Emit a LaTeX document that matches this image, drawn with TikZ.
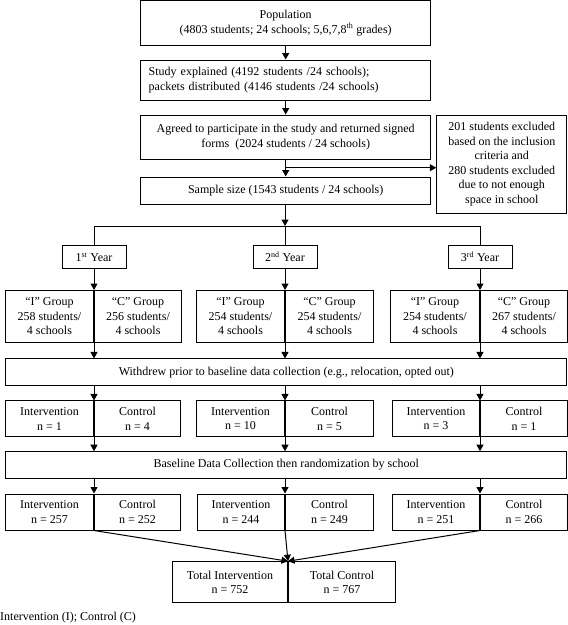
\documentclass[tikz,border=0pt]{standalone}
\usepackage{fontspec}
\setmainfont{Liberation Serif}
\usetikzlibrary{arrows.meta}

\tikzset{
	box/.style={draw, rectangle, line width=1pt, align=center, inner sep=2pt},
	link/.style={-{Triangle[length=6.5pt, width=7pt]}, line width=1pt},
	wire/.style={line width=1pt}
}

\begin{document}
\begin{tikzpicture}[x=1pt, y=-1pt, font=\fontsize{12}{14.5}\selectfont]
	\def \colA {94}
	\def \colB {285}
	\def \colC {480}

	\useasboundingbox (0,0) rectangle (568,625);

	% enrolment chain
	\node[box, minimum width=290pt, minimum height=45pt] (population) at (285.7,23)
		{Population\\(4803 students; 24 schools; 5,6,7,8\textsuperscript{th} grades)};
	\node[box, minimum height=40pt, text width=274pt, inner xsep=8pt, align=left] (study) at (285.7,80)
		{Study explained (4192 students /24 schools);\\packets distributed (4146 students /24 schools)};
	\node[box, minimum width=290pt, minimum height=44pt] (agree) at (285.7,137)
		{Agreed to participate in the study and returned signed\\forms\ \ (2024 students / 24 schools)};
	\node[box, minimum width=290pt, minimum height=27pt] (sample) at (285.7,190.5)
		{Sample size (1543 students / 24 schools)};
	\node[box, minimum width=130pt, minimum height=98pt] (exclude) at (501.8,164)
		{201 students excluded\\based on the inclusion\\criteria and\\280 students excluded\\due to not enough\\space in school};

	% years
	\node[box, minimum width=64pt, minimum height=22.6pt] (year1) at (\colA,257)
		{1\textsuperscript{st} Year};
	\node[box, minimum width=64pt, minimum height=22.6pt] (year2) at (\colB,257)
		{2\textsuperscript{nd} Year};
	\node[box, minimum width=64pt, minimum height=22.6pt] (year3) at (\colC,257)
		{3\textsuperscript{rd} Year};

	% groups
	\node[box, minimum width=88pt, minimum height=52pt, anchor=east] (group1i) at (\colA,316.5)
		{“I” Group\\258 students/\\4 schools};
	\node[box, minimum width=87pt, minimum height=52pt, anchor=west] (group1c) at (\colA,316.5)
		{“C” Group\\256 students/\\4 schools};
	\node[box, minimum width=88pt, minimum height=52pt, anchor=east] (group2i) at (\colB,316.5)
		{“I” Group\\254 students/\\4 schools};
	\node[box, minimum width=88pt, minimum height=52pt, anchor=west] (group2c) at (\colB,316.5)
		{“C” Group\\254 students/\\4 schools};
	\node[box, minimum width=89pt, minimum height=52pt, anchor=east] (group3i) at (\colC,316.5)
		{“I” Group\\254 students/\\4 schools};
	\node[box, minimum width=87pt, minimum height=52pt, anchor=west] (group3c) at (\colC,316.5)
		{“C” Group\\267 students/\\4 schools};

	\node[box, minimum width=561pt, minimum height=26.7pt] (withdrew) at (286.3,372.3)
		{Withdrew prior to baseline data collection (e.g., relocation, opted out)};

	% withdrawn counts
	\node[box, minimum width=88pt, minimum height=35.7pt, anchor=east] (drop1i) at (\colA,418.8)
		{Intervention\\n = 1};
	\node[box, minimum width=86pt, minimum height=35.7pt, anchor=west] (drop1c) at (\colA,418.8)
		{Control\\n = 4};
	\node[box, minimum width=88pt, minimum height=35.7pt, anchor=east] (drop2i) at (\colB,418.8)
		{Intervention\\n = 10};
	\node[box, minimum width=88pt, minimum height=35.7pt, anchor=west] (drop2c) at (\colB,418.8)
		{Control\\n = 5};
	\node[box, minimum width=87pt, minimum height=35.7pt, anchor=east] (drop3i) at (\colC,418.8)
		{Intervention\\n = 3};
	\node[box, minimum width=87pt, minimum height=35.7pt, anchor=west] (drop3c) at (\colC,418.8)
		{Control\\n = 1};

	\node[box, minimum width=561pt, minimum height=26.6pt] (baseline) at (286.3,465)
		{Baseline Data Collection then randomization by school};

	% randomized
	\node[box, minimum width=88pt, minimum height=36pt, anchor=east] (rand1i) at (\colA,512)
		{Intervention\\n = 257};
	\node[box, minimum width=86pt, minimum height=36pt, anchor=west] (rand1c) at (\colA,512)
		{Control\\n = 252};
	\node[box, minimum width=87pt, minimum height=36pt, anchor=east] (rand2i) at (\colB,512)
		{Intervention\\n = 244};
	\node[box, minimum width=88pt, minimum height=36pt, anchor=west] (rand2c) at (\colB,512)
		{Control\\n = 249};
	\node[box, minimum width=87pt, minimum height=36pt, anchor=east] (rand3i) at (\colC,512)
		{Intervention\\n = 251};
	\node[box, minimum width=87pt, minimum height=36pt, anchor=west] (rand3c) at (\colC,512)
		{Control\\n = 266};

	% totals
	\node[box, minimum width=115pt, minimum height=41pt, anchor=east] (totali) at (288,582.2)
		{Total Intervention\\n = 752};
	\node[box, minimum width=107pt, minimum height=41pt, anchor=west] (totalc) at (288,582.2)
		{Total Control\\n = 767};

	\node[anchor=west, inner sep=0pt] (note) at (0,618) {Intervention (I); Control (C)};

	% connectors
	\draw[link] (population) -- (population |- study.north);
	\draw[link] (study) -- (study |- agree.north);
	\draw[link] (agree) -- (agree |- sample.north);
	\coordinate (branch) at (\colB,167.7);
	\draw[link] (branch) -- (branch -| exclude.west);

	\coordinate (split) at (\colB,226);
	\draw[link] (sample.south -| split) -- (split);
	\draw[wire] (split -| year1) -- (split -| year3);
	\draw[wire] (split -| year1) -- (year1);
	\draw[wire] (split) -- (year2);
	\draw[wire] (split -| year3) -- (year3);

	\draw[link] (year1) -- (group1i.north east);
	\draw[link] (year2) -- (group2i.north east);
	\draw[link] (year3) -- (group3i.north east);

	\draw[link] (group1i.south east) -- (withdrew.north -| group1i.south east);
	\draw[link] (group2i.south east) -- (withdrew.north -| group2i.south east);
	\draw[link] (group3i.south east) -- (withdrew.north -| group3i.south east);

	\draw[link] (withdrew.south -| drop1i.north east) -- (drop1i.north east);
	\draw[link] (withdrew.south -| drop2i.north east) -- (drop2i.north east);
	\draw[link] (withdrew.south -| drop3i.north east) -- (drop3i.north east);

	\draw[link] (drop1i.south east) -- (baseline.north -| drop1i.south east);
	\draw[link] (drop2i.south east) -- (baseline.north -| drop2i.south east);
	\draw[link] (drop3i.south east) -- (baseline.north -| drop3i.south east);

	\draw[link] (baseline.south -| rand1i.north east) -- (rand1i.north east);
	\draw[link] (baseline.south -| rand2i.north east) -- (rand2i.north east);
	\draw[link] (baseline.south -| rand3i.north east) -- (rand3i.north east);

	\draw[link] (rand1i.south east) -- (totali.north east);
	\draw[link] (rand2i.south east) -- (totali.north east);
	\draw[link] (rand3i.south east) -- (totali.north east);
\end{tikzpicture}
\end{document}
